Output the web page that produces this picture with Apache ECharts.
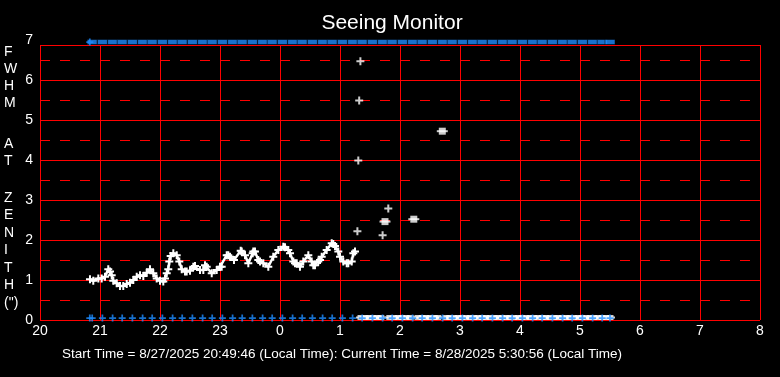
<!DOCTYPE html>
<html><head><meta charset="utf-8">
<script src="https://cdn.jsdelivr.net/npm/echarts@6/dist/echarts.min.js"></script>
<style>html,body{margin:0;padding:0;background:#000;}#c{width:780px;height:377px;}</style>
</head><body><div id="c"></div>
<script>
// ---- data (hours since midnight of start day; 24+ = next day) ----
const xTicks = [20,21,22,23,0,1,2,3,4,5,6,7,8];
const yTicks = [0,1,2,3,4,5,6,7];
const fwhmTimes = [20.833,20.888,20.972,21.028,21.083,21.138,21.167,21.195,21.222,21.278,21.333,21.388,21.445,21.5,21.555,21.612,21.667,21.722,21.778,21.833,21.888,21.945,22.0,22.055,22.083,22.112,22.138,22.155,22.178,22.222,22.278,22.322,22.362,22.417,22.445,22.5,22.555,22.583,22.667,22.722,22.75,22.778,22.862,22.945,23.0,23.028,23.112,23.138,23.167,23.233,23.345,23.362,23.417,23.472,23.545,23.555,23.583,23.638,23.667,23.722,23.805,23.888,23.972,24.055,24.083,24.138,24.167,24.222,24.25,24.278,24.333,24.388,24.472,24.528,24.555,24.583,24.638,24.667,24.695,24.778,24.862,24.888,24.917,24.972,25.0,25.055,25.112,25.138,25.195,25.222,25.25];
const fwhmValues = [1.02,0.98,1.04,1.04,1.08,1.27,1.21,1.12,0.98,0.92,0.85,0.85,0.9,0.93,1.0,1.08,1.12,1.1,1.18,1.27,1.17,1.04,0.98,0.96,1.04,1.17,1.27,1.46,1.6,1.67,1.62,1.46,1.27,1.21,1.21,1.23,1.33,1.35,1.25,1.25,1.37,1.33,1.17,1.25,1.33,1.33,1.62,1.62,1.58,1.5,1.73,1.71,1.62,1.42,1.67,1.71,1.71,1.5,1.46,1.42,1.33,1.58,1.75,1.83,1.82,1.75,1.67,1.46,1.42,1.42,1.33,1.46,1.62,1.46,1.37,1.37,1.46,1.5,1.58,1.75,1.92,1.9,1.85,1.71,1.58,1.46,1.42,1.42,1.46,1.67,1.71];
const outlierTimes = [25.29,25.305,25.32,25.34,25.71,25.805];
const outlierValues = [2.22,3.99,5.49,6.47,2.12,2.79];
const squareTimes = [25.75,26.23,26.705];
const squareValues = [2.46,2.52,4.72];
const zeroTimes = [25.35,25.42,25.48,25.55,25.62,25.68,25.83,25.9,25.97,26.03,26.1,26.17,26.3,26.37,26.43,26.5,26.57,26.63,26.77,26.83,26.9,26.97,27.03,27.1,27.17,27.23,27.3,27.37,27.43,27.5,27.57,27.63,27.7,27.77,27.83,27.9,27.97,28.03,28.1,28.17,28.23,28.3,28.37,28.43,28.5,28.57,28.63,28.7,28.77,28.83,28.9,28.97,29.03,29.1,29.17,29.23,29.3,29.37,29.43,29.5];
const blueTimes = [20.83,20.87,21.04,21.21,21.37,21.54,21.71,21.87,22.04,22.21,22.37,22.54,22.71,22.87,23.04,23.21,23.37,23.54,23.71,23.87,24.04,24.21,24.37,24.54,24.71,24.87,25.04,25.21,25.37,25.54,25.71,25.87,26.04,26.21,26.37,26.54,26.71,26.87,27.04,27.21,27.37,27.54,27.71,27.87,28.04,28.21,28.37,28.54,28.71,28.87,29.04,29.21,29.37,29.5];
const blueTopValue = 7;
const blueBottomValue = 0;
const titleText = 'Seeing Monitor';
const footerText = 'Start Time = 8/27/2025 20:49:46 (Local Time): Current Time = 8/28/2025 5:30:56 (Local Time)';

// ---- build ----
const pair = (xs, ys) => xs.map((x, i) => [x, ys[i]]);
const constPair = (xs, v) => xs.map(x => [x, v]);
const PLUS = 'path://M3,0H5V3H8V5H5V8H3V5H0V3H3Z';
const RED = '#ff0000';
const FONT = 'Liberation Sans, Arial, sans-serif';
const xMin = xTicks[0], xMax = xTicks[0] + xTicks.length - 1;
const yMin = yTicks[0], yMax = yTicks[yTicks.length - 1];
const hidden = {axisLine:{show:false}, axisTick:{show:false}, axisLabel:{show:false}};

const option = {
  backgroundColor: '#000',
  animation: false,
  title: {text: titleText, left: 387, top: 8, textAlign: 'center',
    textStyle: {color: '#fff', fontSize: 21, fontWeight: 'normal', fontFamily: FONT}},
  grid: [
    {left: 40, right: 20, top: 40, bottom: 57},          // data grid (0..7)
    {left: 40, right: 20, top: 45, bottom: 57},          // frame + solid grid (0..6.875)
    {left: 40, right: 20, top: 60, bottom: 77}           // dashed half-unit lines (0.5..6.5)
  ],
  xAxis: [
    {gridIndex: 0, type: 'value', min: xMin, max: xMax, interval: 1,
      axisLine: {show: false}, axisTick: {show: false}, splitLine: {show: false},
      axisLabel: {color: '#fff', fontSize: 14, margin: 4, fontFamily: FONT,
        formatter: v => String(xTicks[Math.round(v - xMin)])}},
    Object.assign({gridIndex: 1, type: 'value', min: xMin, max: xMax, interval: 1,
      splitLine: {show: true, lineStyle: {color: RED, width: 1}}}, hidden),
    Object.assign({gridIndex: 2, type: 'value', min: xMin, max: xMax, interval: 1,
      splitLine: {show: false}}, hidden)
  ],
  yAxis: [
    {gridIndex: 0, type: 'value', min: yMin, max: yMax, interval: 1,
      axisLine: {show: false}, axisTick: {show: false}, splitLine: {show: false},
      axisLabel: {color: '#fff', fontSize: 14, margin: 7, fontFamily: FONT}},
    Object.assign({gridIndex: 1, type: 'value', min: 0, max: 6.875, interval: 1,
      splitLine: {show: true, lineStyle: {color: RED, width: 1}}}, hidden),
    Object.assign({gridIndex: 2, type: 'value', min: 0.5, max: 6.5, interval: 1,
      splitLine: {show: true, lineStyle: {color: RED, width: 1, type: [10,10]}}}, hidden)
  ],
  graphic: [
    {type:'text', left: 4, top: 44, style:{text:'F\nW\nH\nM', fill:'#fff', font:'14px Liberation Sans', lineHeight:17, align:'center', width: 14}},
    {type:'text', left: 4, top: 136, style:{text:'A\nT', fill:'#fff', font:'14px Liberation Sans', lineHeight:17, align:'center', width: 14}},
    {type:'text', left: 4, top: 189, style:{text:'Z\nE\nN\nI\nT\nH\n(")', fill:'#fff', font:'14px Liberation Sans', lineHeight:17.5, align:'center', width: 14}},
    {type:'text', left: 62, top: 347, style:{text: footerText, fill:'#fff', font:'13.5px Liberation Sans'}}
  ],
  series: [
    {type: 'line', xAxisIndex: 1, yAxisIndex: 1, data: [], silent: true},
    {type: 'line', xAxisIndex: 2, yAxisIndex: 2, data: [], silent: true},
    {name: 'FWHM', type: 'line', data: pair(fwhmTimes, fwhmValues), z: 5,
      lineStyle: {color: '#fff', width: 2.5}, symbol: PLUS, symbolSize: 8, showAllSymbol: true,
      itemStyle: {color: '#fff'}},
    {type: 'scatter', data: pair(outlierTimes, outlierValues), z: 5, symbol: PLUS, symbolSize: 8, itemStyle: {color: '#fff'}},
    {type: 'scatter', data: pair(squareTimes, squareValues), z: 5, symbol: 'rect', symbolSize: [11,2], itemStyle: {color: '#fff'}},
    {type: 'scatter', data: pair(squareTimes, squareValues), z: 5, symbol: 'rect', symbolSize: [7,7], itemStyle: {color: '#fff'}},
    {type: 'scatter', data: constPair(zeroTimes, 0), z: 5, symbol: 'rect', symbolSize: [7,5], symbolOffset: [0,-2.5], itemStyle: {color: '#fff'}},
    {type: 'scatter', data: constPair(zeroTimes, 0), z: 5, symbol: 'rect', symbolSize: [10,2], symbolOffset: [0,-2.5], itemStyle: {color: '#fff'}},
    {type: 'scatter', data: constPair(blueTimes.slice(1), blueTopValue), z: 6, symbol: 'rect', symbolSize: [10,5], symbolOffset: [0,2],
      itemStyle: {color: '#1e8cff', borderColor: '#000', borderWidth: 0.6}},
    {type: 'scatter', data: constPair(blueTimes.slice(0,1), blueTopValue), z: 6, symbol: PLUS, symbolSize: 7, symbolOffset: [0,2], itemStyle: {color: '#1e8cff'}},
    {type: 'scatter', data: constPair(blueTimes, blueBottomValue), z: 7, symbol: PLUS, symbolSize: 7, symbolOffset: [0,-2], itemStyle: {color: '#1e8cff'}}
  ]
};
const chart = echarts.init(document.getElementById('c'), null, {renderer: 'canvas'});
chart.setOption(option);
</script></body></html>
